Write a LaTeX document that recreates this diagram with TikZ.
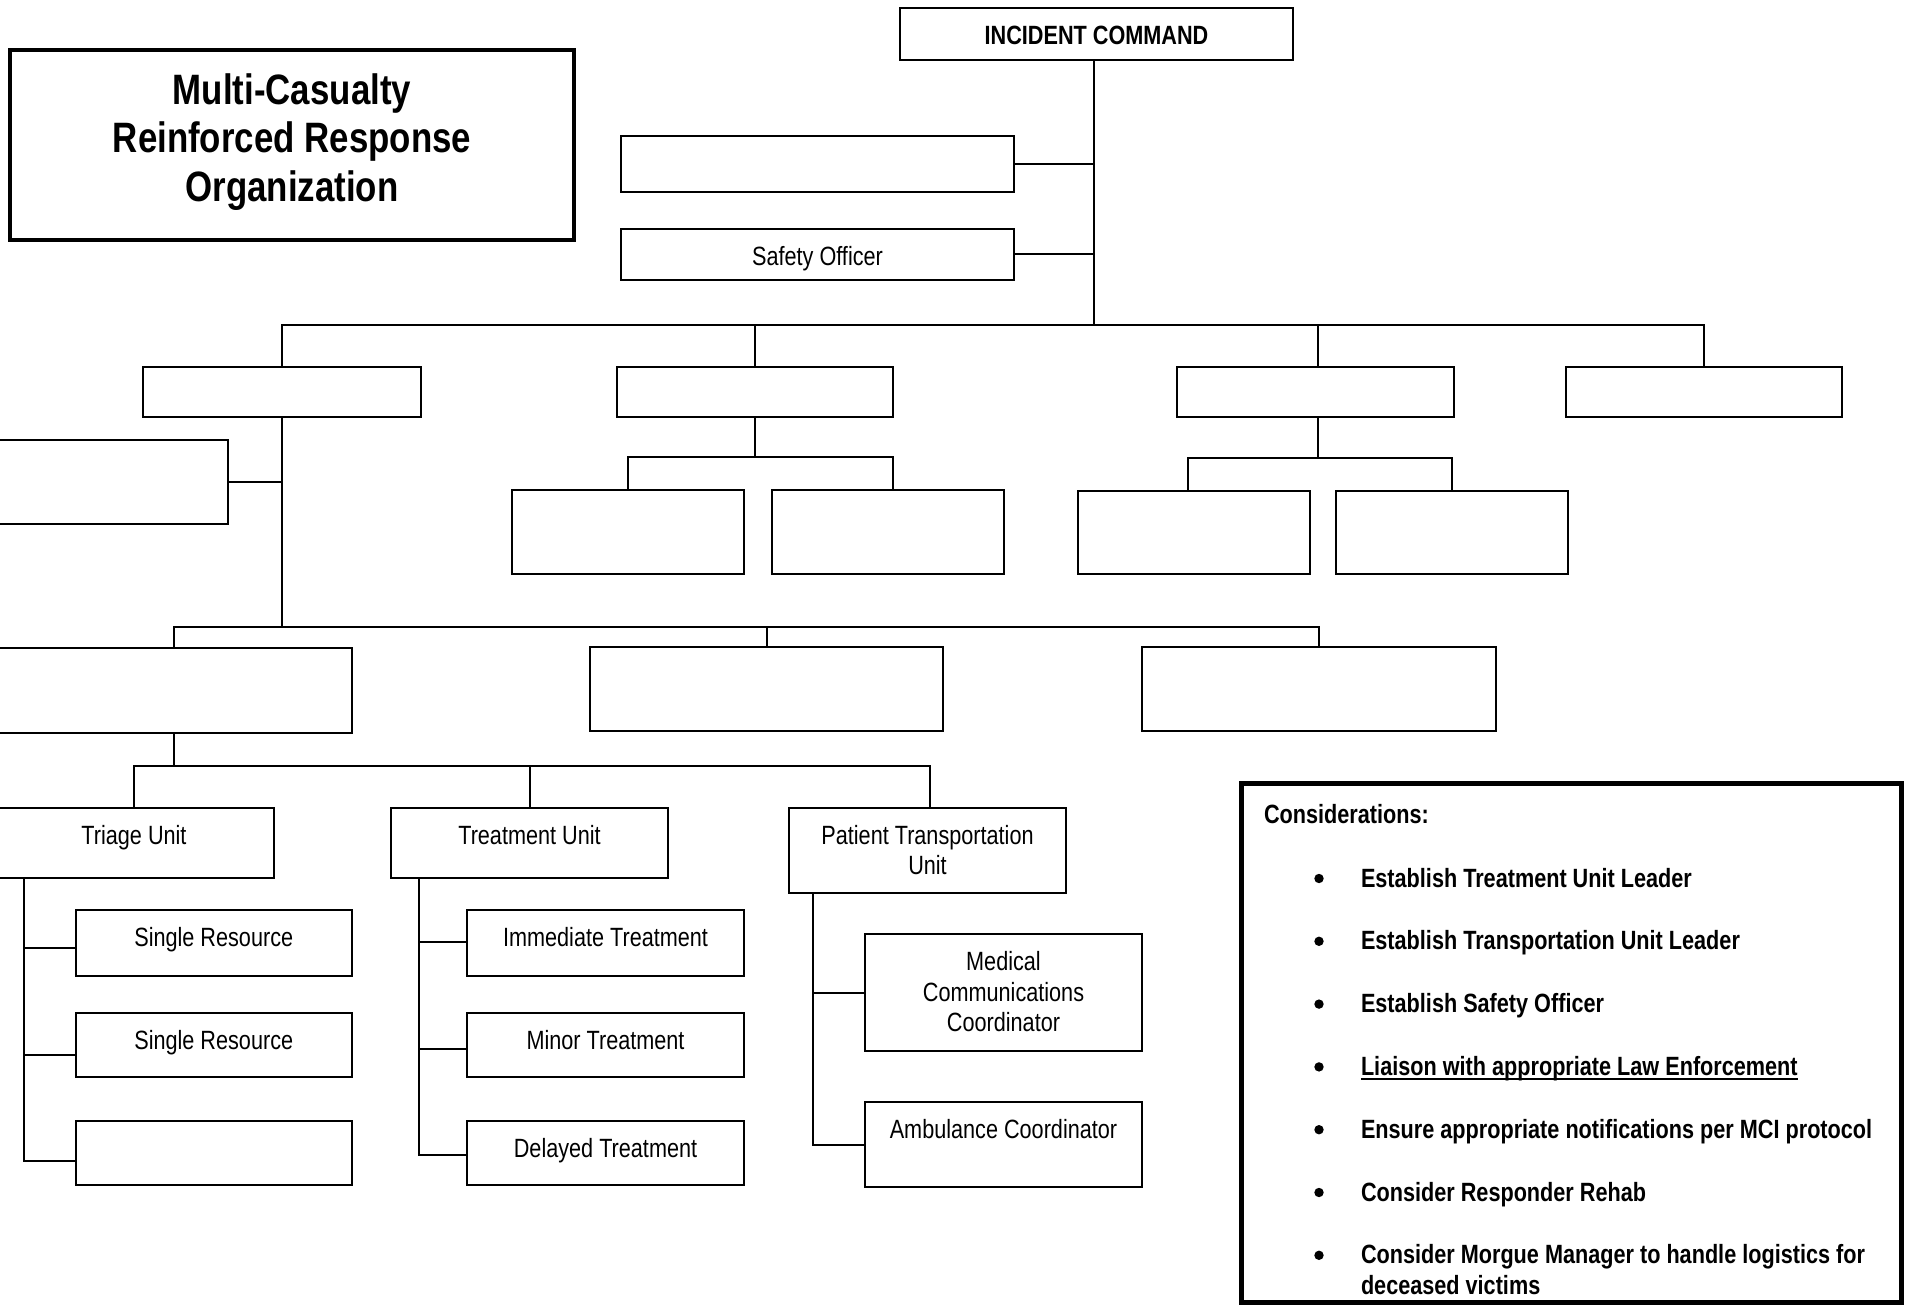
\documentclass[tikz,border=0pt]{standalone}
\usepackage{fontspec}
\setmainfont{Liberation Sans}[FakeStretch=0.82]
\usetikzlibrary{calc}
\begin{document}
\begin{tikzpicture}[x=1pt,y=-1pt,
  box/.style={draw=black, line width=2pt, inner sep=0pt, outer sep=0pt, rectangle, fill=white},
  hbox/.style={box, line width=2.8pt},
  conn/.style={draw=black, line width=2pt},
  txt/.style={inner sep=0pt, outer sep=0pt, anchor=north, align=center, font=\fontsize{26.4}{30.5}\selectfont},
  btxt/.style={txt, font=\fontsize{26.4}{30.5}\selectfont\bfseries},
  ctxt/.style={inner sep=0pt, outer sep=0pt, anchor=base west, align=left, font=\fontsize{26.4}{30.5}\selectfont\bfseries},
  bul/.style={fill=black}
]
\useasboundingbox (0,0) rectangle (1906,1305);

% boxes
\node[box, line width=4pt, minimum width=564pt, minimum height=190pt, anchor=north west] (title) at (10,50) {};
\node[box, minimum width=393pt, minimum height=52pt, anchor=north west] (ic) at (900,8) {};
\node[box, minimum width=393pt, minimum height=56pt, anchor=north west] (blank1) at (621,136) {};
\node[box, minimum width=393pt, minimum height=51pt, anchor=north west] (safety) at (621,229) {};

\node[hbox, minimum width=278pt, minimum height=50pt, anchor=north west] (l1) at (143,367) {};
\node[hbox, minimum width=276pt, minimum height=50pt, anchor=north west] (l2) at (617,367) {};
\node[hbox, minimum width=277pt, minimum height=50pt, anchor=north west] (l3) at (1177,367) {};
\node[hbox, minimum width=276pt, minimum height=50pt, anchor=north west] (l4) at (1566,367) {};

\node[box, minimum width=238pt, minimum height=84pt, anchor=north west] (side) at (-10,440) {};
\node[box, minimum width=232pt, minimum height=84pt, anchor=north west] (l2a) at (512,490) {};
\node[box, minimum width=232pt, minimum height=84pt, anchor=north west] (l2b) at (772,490) {};
\node[box, minimum width=232pt, minimum height=83pt, anchor=north west] (l3a) at (1078,491) {};
\node[box, minimum width=232pt, minimum height=83pt, anchor=north west] (l3b) at (1336,491) {};

\node[box, minimum width=356pt, minimum height=85pt, anchor=north west] (ra) at (-4,648) {};
\node[box, minimum width=353pt, minimum height=84pt, anchor=north west] (rb) at (590,647) {};
\node[box, minimum width=354.5pt, minimum height=84pt, anchor=north west] (rc) at (1141.5,647) {};

\node[box, minimum width=280pt, minimum height=70pt, anchor=north west] (tri) at (-6,808) {};
\node[box, minimum width=277pt, minimum height=70pt, anchor=north west] (treat) at (391,808) {};
\node[box, minimum width=277pt, minimum height=85pt, anchor=north west] (pt) at (789,808) {};

\node[box, minimum width=276.5pt, minimum height=66pt, anchor=north west] (sr1) at (75.5,910) {};
\node[box, minimum width=276.5pt, minimum height=64pt, anchor=north west] (sr2) at (75.5,1013) {};
\node[box, minimum width=276.5pt, minimum height=64pt, anchor=north west] (sr3) at (75.5,1121) {};
\node[box, minimum width=277pt, minimum height=66pt, anchor=north west] (imm) at (467,910) {};
\node[box, minimum width=277pt, minimum height=64pt, anchor=north west] (minor) at (467,1013) {};
\node[box, minimum width=277pt, minimum height=64pt, anchor=north west] (del) at (467,1121) {};
\node[box, minimum width=277pt, minimum height=117pt, anchor=north west] (mcc) at (865,934) {};
\node[box, minimum width=277pt, minimum height=85pt, anchor=north west] (amb) at (865,1102) {};

\node[box, line width=5pt, minimum width=660pt, minimum height=519pt, anchor=north west] (cons) at (1241.5,783.5) {};

% connector helpers
\coordinate (bus1) at (0,325);
\coordinate (bus2) at (0,627);
\coordinate (bus3) at (0,766);
\coordinate (sb2) at (0,457);
\coordinate (sb3) at (0,458);
\coordinate (tx) at (24,0);
\coordinate (mx) at (419,0);
\coordinate (px) at (813,0);
\coordinate (ict) at (1094,0);

% connectors
\draw[conn] (ic.south -| ict) -- (ict |- bus1);
\draw[conn] (blank1.east) -- (blank1.east -| ict);
\draw[conn] (safety.east) -- (safety.east -| ict);
\draw[conn] (l1.north) -- (l1.north |- bus1) -- (l4.north |- bus1) -- (l4.north);
\draw[conn] (l2.north) -- (l2.north |- bus1);
\draw[conn] ([xshift=2.5pt]l3.north) -- ([xshift=2.5pt]l3.north |- bus1);
\draw[conn] (l2.south) -- (l2.south |- sb2);
\draw[conn] (l2a.north) -- (l2a.north |- sb2) -- ([xshift=5pt]l2b.north |- sb2) -- ([xshift=5pt]l2b.north);
\draw[conn] ([xshift=2.5pt]l3.south) -- ([xshift=2.5pt]l3.south |- sb3);
\draw[conn] ([xshift=-6pt]l3a.north) -- ([xshift=-6pt]l3a.north |- sb3) -- (l3b.north |- sb3) -- (l3b.north);
\draw[conn] (l1.south) -- (l1.south |- bus2);
\draw[conn] (side.east) -- (side.east -| l1.south);
\draw[conn] (ra.north) -- (ra.north |- bus2) -- (rc.north |- bus2) -- (rc.north);
\draw[conn] (rb.north) -- (rb.north |- bus2);
\draw[conn] (ra.south) -- (ra.south |- bus3);
\draw[conn] (tri.north) -- (tri.north |- bus3) -- ([xshift=2pt]pt.north |- bus3) -- ([xshift=2pt]pt.north);
\draw[conn] (treat.north) -- (treat.north |- bus3);
\draw[conn] (tri.south -| tx) |- ($(sr3.west)+(0,8)$);
\draw[conn] ($(sr1.west)+(0,5)$) -- ++(-51.5,0);
\draw[conn] ($(sr2.west)+(0,10)$) -- ++(-51.5,0);
\draw[conn] (treat.south -| mx) |- ($(del.west)+(0,2)$);
\draw[conn] ($(imm.west)+(0,-1)$) -- ++(-48,0);
\draw[conn] ($(minor.west)+(0,4)$) -- ++(-48,0);
\draw[conn] (pt.south -| px) |- (amb.west);
\draw[conn] (mcc.west) -- ++(-52,0);

% texts
\node[txt, font=\fontsize{42.5}{48.6}\selectfont\bfseries] (titleT) at ([yshift=-20pt]title.north) {\strut Multi-Casualty\\Reinforced Response\\Organization};
\node[btxt] (icT) at ([yshift=-15pt]ic.north) {\strut INCIDENT COMMAND};
\node[txt] (safetyT) at ([yshift=-15pt]safety.north) {\strut Safety Officer};
\node[txt] (triT) at ([yshift=-15pt]tri.north) {\strut Triage Unit};
\node[txt] (treatT) at ([yshift=-15pt]treat.north) {\strut Treatment Unit};
\node[txt] (ptT) at ([yshift=-15pt]pt.north) {\strut Patient Transportation\\Unit};
\node[txt] (sr1T) at ([yshift=-15pt]sr1.north) {\strut Single Resource};
\node[txt] (sr2T) at ([yshift=-15pt]sr2.north) {\strut Single Resource};
\node[txt] (immT) at ([yshift=-15pt]imm.north) {\strut Immediate Treatment};
\node[txt] (minorT) at ([yshift=-15pt]minor.north) {\strut Minor Treatment};
\node[txt] (delT) at ([yshift=-15pt]del.north) {\strut Delayed Treatment};
\node[txt] (mccT) at ([yshift=-15.5pt]mcc.north) {\strut Medical\\Communications\\Coordinator};
\node[txt] (ambT) at ([yshift=-15pt]amb.north) {\strut Ambulance Coordinator};

% considerations
\node[ctxt] (c0) at (1264,823) {Considerations:};
\node[ctxt] (c1) at (1361,887) {Establish Treatment Unit Leader};
\node[ctxt] (c2) at (1361,949.8) {Establish Transportation Unit Leader};
\node[ctxt] (c3) at (1361,1012.6) {Establish Safety Officer};
\node[ctxt] (lia) at (1361,1075.4) {Liaison with appropriate Law Enforcement};
\node[ctxt] (c5) at (1361,1138.2) {Ensure appropriate notifications per MCI protocol};
\node[ctxt] (c6) at (1361,1201) {Consider Responder Rehab};
\node[ctxt, anchor=north west] (c7) at (1361,1242.45) {\strut Consider Morgue Manager to handle logistics for\\deceased victims};
\draw[line width=2pt] ($(lia.base west)+(0,4)$) -- ($(lia.base east)+(0,4)$);
\foreach \yy in {887,949.8,1012.6,1075.4,1138.2,1201,1263.8}
  \fill[bul] (1319,\yy-8.5) circle[radius=4.7pt];
\end{tikzpicture}
\end{document}
